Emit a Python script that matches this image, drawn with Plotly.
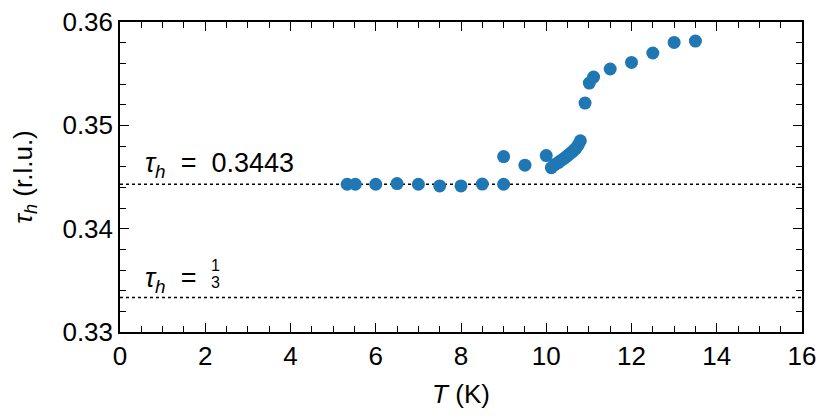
import plotly.graph_objects as go

# temperature (K) and tau_h (r.l.u.)
T = [5.33, 5.52, 6.0, 6.5, 7.0, 7.5, 8.0, 8.5, 9.0, 9.0, 9.5, 10.0,
     10.12, 10.2, 10.28, 10.35, 10.42, 10.48, 10.54, 10.6, 10.65, 10.7, 10.75, 10.8,
     10.91, 11.01, 11.11, 11.5, 12.0, 12.5, 13.0, 13.5]
tau = [0.3443, 0.3443, 0.3443, 0.34436, 0.3443, 0.34414, 0.34414, 0.34432, 0.3443, 0.34698, 0.34614, 0.34707,
       0.3459, 0.3462, 0.3464, 0.3466, 0.3468, 0.3470, 0.3472, 0.3474, 0.3476, 0.3478, 0.3481, 0.3485,
       0.35215, 0.35409, 0.35467, 0.35545, 0.35609, 0.35700, 0.35802, 0.35815]

ref_levels = [0.3443, 1 / 3]
x_range = [0, 16]
y_range = [0.33, 0.36]

font = "Liberation Sans, Arial, Helvetica, sans-serif"
fsize = 26

fig = go.Figure()

for lvl in ref_levels:
    fig.add_trace(go.Scatter(
        x=x_range, y=[lvl, lvl], mode="lines",
        line=dict(color="black", width=1.5, dash="dot"),
        hoverinfo="skip", showlegend=False))

fig.add_trace(go.Scatter(
    x=T, y=tau, mode="markers",
    marker=dict(color="#1f77b4", size=13, line_width=0),
    showlegend=False))

axis_common = dict(
    showgrid=False, zeroline=False, automargin=False, ticklabeloverflow="allow",
    showline=True, linecolor="black", linewidth=1.5,
    mirror="allticks", ticks="inside", ticklen=9, tickwidth=1.2, tickcolor="black",
    tickfont=dict(family=font, size=fsize, color="black"),
)

fig.update_xaxes(
    range=x_range, dtick=2, tick0=0,
    minor=dict(dtick=0.5, ticks="inside", ticklen=6, tickwidth=1, tickcolor="black"),
    title=dict(text="<i>T</i> (K)", font=dict(family=font, size=fsize, color="black"), standoff=15),
    **axis_common)
fig.update_yaxes(
    range=y_range, dtick=0.01, tick0=0.33, tickformat=".2f",
    minor=dict(dtick=0.002, ticks="inside", ticklen=6, tickwidth=1, tickcolor="black"),
    title=dict(text="<i>τ</i><sub><i>h</i></sub> (r.l.u.)", font=dict(family=font, size=fsize, color="black"), standoff=24),
    **axis_common)

fig.add_annotation(x=0.55, y=0.3443, yshift=19, xanchor="left", showarrow=False,
                   text="<i>τ</i><sub><i>h</i></sub>  =  0.3443",
                   font=dict(family=font, size=27, color="black"))
fig.add_annotation(x=0.55, y=1 / 3, yshift=18, xanchor="left", showarrow=False,
                   text="<i>τ</i><sub><i>h</i></sub>  =",
                   font=dict(family=font, size=27, color="black"))
fig.add_annotation(x=2.25, y=1 / 3, yshift=32, xanchor="center", showarrow=False,
                   text="1", font=dict(family=font, size=16, color="black"))
fig.add_annotation(x=2.25, y=1 / 3, yshift=15, xanchor="center", showarrow=False,
                   text="3", font=dict(family=font, size=16, color="black"))

# page body adds an 8px offset, so margins are shifted to match
fig.update_layout(
    width=830, height=420,
    margin=dict(l=112, r=36, t=14, b=96),
    plot_bgcolor="white", paper_bgcolor="white",
)

fig.write_html("out.html")
